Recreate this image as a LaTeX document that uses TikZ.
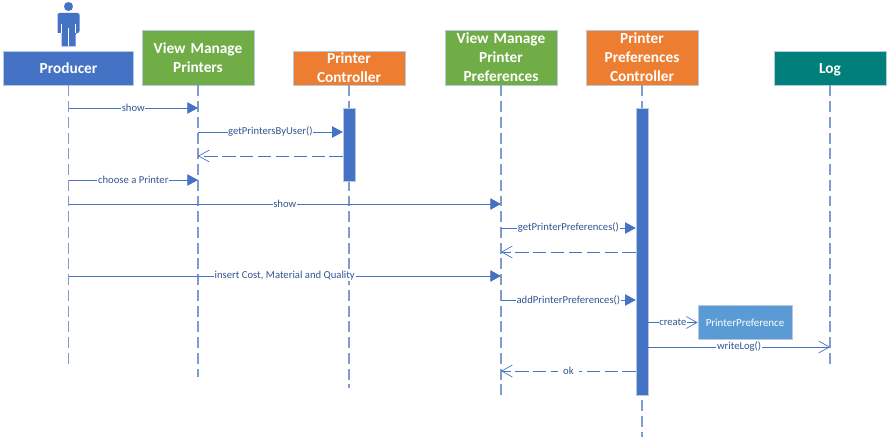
\documentclass[tikz,border=0pt]{standalone}
\usepackage{fontspec}
\setmainfont{Carlito}
\usepackage{xcolor}
\usetikzlibrary{arrows.meta, positioning}
\definecolor{cblue}{HTML}{4472C4}
\definecolor{cgreen}{HTML}{70AD47}
\definecolor{corange}{HTML}{ED7D31}
\definecolor{cteal}{HTML}{007F7B}
\definecolor{clight}{HTML}{5B9BD5}
\definecolor{cline}{HTML}{7F9CCB}
\definecolor{cedge}{HTML}{B7C9DE}

\begin{document}
\begin{tikzpicture}[x=0.75pt, y=-0.75pt,
    hd/.style={rectangle, draw=cedge, line width=0.6pt, text=white, align=center,
        inner sep=0pt, text width=82pt, minimum width=84pt,
        font=\fontsize{11.5}{14.2}\selectfont\bfseries},
    hdlo/.style={hd, minimum height=25.5pt},
    hdhi/.style={hd, minimum height=41.25pt},
    bar/.style={rectangle, fill=cblue, draw=cedge, line width=0.3pt, minimum width=9pt, inner sep=0pt},
    life/.style={draw=cline, line width=0.8pt, dash pattern=on 8.2pt off 3.6pt},
    msg/.style={-{Triangle[length=8pt,width=8.5pt]}, draw=cblue, line width=0.6pt, color=cblue},
    ret/.style={-{Straight Barb[length=8pt,width=9pt,line width=0.5pt]}, draw=cblue, line width=0.6pt, color=cblue, dash pattern=on 10pt off 3.4pt},
    opn/.style={-{Straight Barb[length=8pt,width=9pt,line width=0.5pt]}, draw=cblue, line width=0.6pt, color=cblue},
    lab/.style={fill=white, inner sep=0.5pt, text=cblue!75!black, font=\fontsize{8}{9}\selectfont}]
\useasboundingbox (0,0) rectangle (889,438);

% actor
\fill[cblue] (68.5,6.5) circle (4.5);
\fill[cblue, rounded corners=1.5pt] (57.5,33) -- (57.5,13) -- (79.5,13) -- (79.5,33) -- (75.5,33)
    [sharp corners] -- (75.5,46.5) -- (61.5,46.5) -- (61.5,33) -- cycle;
\draw[white, line width=0.5pt] (61.5,24) -- (61.5,33) (75.5,24) -- (75.5,33) (68.5,28) -- (68.5,46.5);

% headers
\node[hdlo, fill=cblue, minimum width=98pt] (Pd) at (68.5,68) {Producer};
\node[hdhi, fill=cgreen] (VP) at (198,57.5) {View Manage\\Printers};
\node[hdlo, fill=corange] (PC) at (349,68) {Printer\\Controller};
\node[hdhi, fill=cgreen] (VL) at (501,57.5) {View Manage\\Printer\\Preferences};
\node[hdhi, fill=corange] (PL) at (642,57.5) {Printer\\Preferences\\Controller};
\node[hdlo, fill=cteal] (Lg) at (830,68) {\rule{0pt}{10.5pt}Log};

% lifelines
\foreach \who/\x/\yend in {Pd/68.5/365, VP/198/377, PC/349/388, VL/501/395, PL/642/437, Lg/830/365} {
    \coordinate (\who end) at (\x,\yend);
    \draw[life] (\who) -- (\who end);
    \foreach \m/\y in {a/108, b/132, c/156, d/180, e/204, f/228, g/252, h/276, i/300, j/323, k/347, l/371}
        \coordinate (\who\m) at (\x,\y);
}

% activation bars
\node[bar, minimum height=54.75pt] (BarA) at (349,144.5) {};
\node[bar, minimum height=215.25pt] (BarB) at (642,251.5) {};

\node[rectangle, fill=clight, draw=cedge, line width=0.6pt, minimum width=70.5pt, minimum height=25pt,
    inner sep=0pt, text=white, font=\fontsize{8.2}{10}\selectfont] (PP) at (745,322.5) {PrinterPreference};

% messages
\draw[msg] (Pda) -- node[lab] {show} (VPa);
\draw[msg] (VPb) -- node[lab] {getPrintersByUser()} (BarA.west |- VPb);
\draw[ret] (BarA.west |- VPc) -- (VPc);
\draw[msg] (Pdd) -- node[lab] {choose a Printer} (VPd);
\draw[msg] (Pde) -- node[lab] {show} (VLe);
\draw[msg] (VLf) -- node[lab] {getPrinterPreferences()} (BarB.west |- VLf);
\draw[ret] (BarB.west |- VLg) -- (VLg);
\draw[msg] (Pdh) -- node[lab] {insert Cost, Material and Quality} (VLh);
\draw[msg] (VLi) -- node[lab] {addPrinterPreferences()} (BarB.west |- VLi);
\draw[opn] (BarB.east |- PP) -- node[lab] {create} (PP);
\draw[opn] (BarB.east |- Lgk) -- node[lab] {writeLog()} (Lgk);
\draw[ret] (BarB.west |- VLl) -- node[lab, inner xsep=4pt] {ok} (VLl);
\end{tikzpicture}
\end{document}
